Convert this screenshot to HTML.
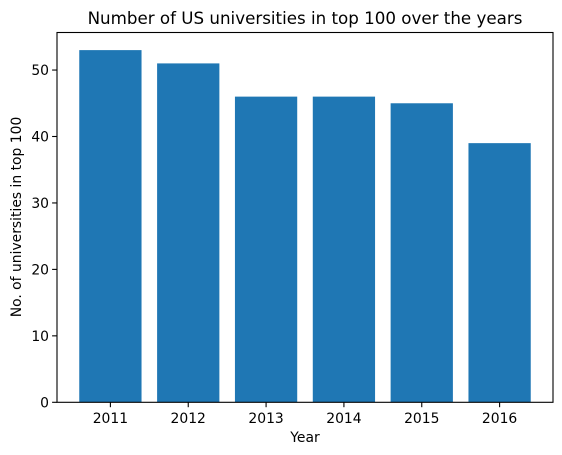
<!DOCTYPE html>
<html><head><meta charset="utf-8"><style>
body{margin:0;background:#fff;font-family:"DejaVu Sans","Liberation Sans",sans-serif}
svg{display:block}
</style></head><body>
<svg width="562" height="455" xmlns="http://www.w3.org/2000/svg" id="c">
<text x="305" y="24" text-anchor="middle" font-size="16.7" fill="#000">Number of US universities in top 100 over the years</text>
<text x="305" y="442" text-anchor="middle" font-size="13.9" fill="#000">Year</text>
<text transform="translate(21,217) rotate(-90)" text-anchor="middle" font-size="13.9" fill="#000">No. of universities in top 100</text>
</svg>
<script>
const categories=["2011","2012","2013","2014","2015","2016"];
const values=[53,51,46,46,45,39];
const yTicks=[0,10,20,30,40,50];
const L=57,R=553,T=32.5,B=402.3,ymax=55.65,xmin=-0.686,xmax=5.686;
const svg=document.getElementById('c'),ns="http://www.w3.org/2000/svg";
const xs=i=>L+(i-xmin)/(xmax-xmin)*(R-L);
const ys=v=>B-v/ymax*(B-T);
function mk(t,a,p){const e=document.createElementNS(ns,t);for(const k in a)e.setAttribute(k,a[k]);(p||svg).appendChild(e);return e;}
const bw=0.8*(R-L)/(xmax-xmin);
values.forEach((v,i)=>{
 const r=mk('rect',{x:xs(i)-bw/2,y:ys(v),width:bw,height:B-ys(v),fill:'#1f77b4'});
 
 
 const t=mk('line',{x1:xs(i),x2:xs(i),y1:B,y2:B+4.9,stroke:'#000','stroke-width':1.1});
 
 
 const l=mk('text',{x:xs(i),y:B+20.5,'text-anchor':'middle','font-size':13.9,fill:'#000'});
 l.textContent=categories[i];
 
 
});
yTicks.forEach(v=>{
 const t=mk('line',{x1:L-4.9,x2:L,y1:ys(v),y2:ys(v),stroke:'#000','stroke-width':1.1});
 
 
 const l=mk('text',{x:L-8,y:ys(v)+5,'text-anchor':'end','font-size':13.9,fill:'#000'});
 l.textContent=v;
 
 
});
const f=mk('rect',{x:L,y:T,width:R-L,height:B-T,fill:'none',stroke:'#000','stroke-width':1.1});


</script>
</body></html>
